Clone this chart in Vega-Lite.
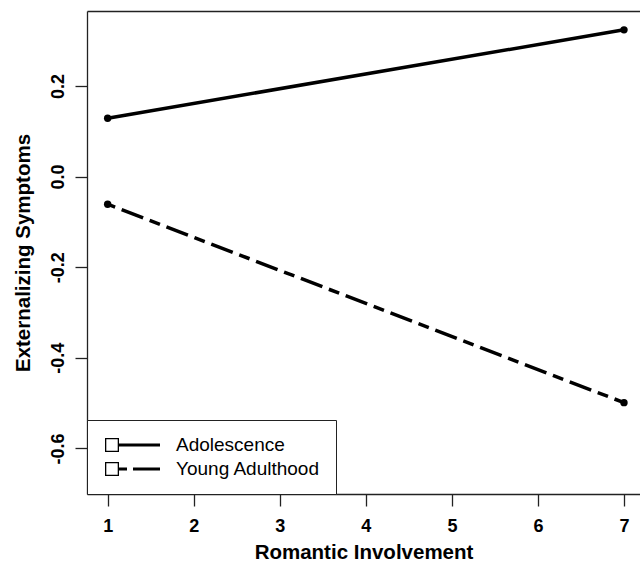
{
  "$schema": "https://vega.github.io/schema/vega-lite/v6.json",
  "width": 553,
  "height": 483,
  "autosize": {"type": "none"},
  "padding": {"left": 87, "top": 11, "right": 0, "bottom": 70},
  "background": "white",
  "config": {"view": {"stroke": null}, "font": "Liberation Sans"},
  "data": {"values": [
    {"x": 1, "value": 0.129, "series": "Adolescence"},
    {"x": 7, "value": 0.324, "series": "Adolescence"},
    {"x": 1, "value": -0.061, "series": "Young Adulthood"},
    {"x": 7, "value": -0.499, "series": "Young Adulthood"}
  ]},
  "encoding": {
    "x": {"field": "x", "type": "quantitative",
      "scale": {"domain": [0.76, 7.186], "nice": false, "zero": false},
      "axis": {"values": [1, 2, 3, 4, 5, 6, 7], "grid": false, "tickSize": 12, "tickColor": "#222", "tickWidth": 1.3,
        "domainColor": "#222", "domainWidth": 1.3, "labelFont": "Liberation Sans", "labelFontSize": 18,
        "labelFontWeight": "bold", "labelColor": "#000", "labelPadding": 11, "labelFlush": false, "labelOverlap": false,
        "title": "Romantic Involvement", "titleFont": "Liberation Sans", "titleFontSize": 20.5, "titleFontWeight": "bold",
        "titleColor": "#000", "titlePadding": 7}},
    "y": {"field": "value", "type": "quantitative",
      "scale": {"domain": [-0.7007, 0.3656], "nice": false, "zero": false},
      "axis": {"values": [-0.6, -0.4, -0.2, 0, 0.2], "grid": false, "tickSize": 12, "tickColor": "#222", "tickWidth": 1.3,
        "domainColor": "#222", "domainWidth": 1.3, "labelFont": "Liberation Sans", "labelFontSize": 18,
        "labelFontWeight": "bold", "labelColor": "#000", "labelPadding": 12, "labelAngle": -90,
        "labelAlign": "center", "labelBaseline": "alphabetic", "labelOverlap": false, "labelFlush": false,
        "labelExpr": "datum.value < 0 ? '-' + format(-datum.value, '.1f') : format(datum.value, '.1f')",
        "title": "Externalizing Symptoms", "titleFont": "Liberation Sans", "titleFontSize": 20.5, "titleFontWeight": "bold",
        "titleColor": "#000", "titleBaseline": "alphabetic", "titlePadding": 20}}
  },
  "resolve": {"axis": {"x": "independent"}},
  "layer": [
    {
      "transform": [{"filter": "datum.series === 'Adolescence'"}],
      "mark": {"type": "line", "color": "#000", "strokeWidth": 3.5, "strokeCap": "butt"},
      "encoding": {}
    },
    {
      "transform": [{"filter": "datum.series === 'Young Adulthood'"}],
      "mark": {"type": "line", "color": "#000", "strokeWidth": 3.5, "strokeCap": "butt", "strokeDash": [23, 7, 11, 7], "strokeDashOffset": 33},
      "encoding": {
        "x": {"field": "x", "type": "quantitative",
          "scale": {"domain": [0.76, 7.186], "nice": false, "zero": false}, "axis": null}
      }
    },
    {
      "mark": {"type": "point", "filled": true, "color": "#000", "size": 55, "opacity": 1},
      "encoding": {
        "x": {"field": "x", "type": "quantitative",
          "scale": {"domain": [0.76, 7.186], "nice": false, "zero": false},
          "axis": {"orient": "top", "labels": false, "ticks": false, "title": null, "domain": true,
            "domainColor": "#222", "domainWidth": 1.3, "grid": false}}
      }
    },
    {
      "mark": {"type": "point", "filled": true, "color": "#000", "size": 0, "opacity": 1},
      "encoding": {
        "x": {"field": "x", "type": "quantitative",
          "scale": {"domain": [0.76, 7.186], "nice": false, "zero": false}, "axis": null},
        "shape": {"field": "series", "type": "nominal",
          "scale": {"domain": ["Adolescence", "Young Adulthood"],
            "range": [
              "M-1,0M-0.7,-0.7L0.7,-0.7L0.7,0.7L-0.7,0.7ZM-0.57,-0.57L-0.57,0.57L0.57,0.57L0.57,-0.57ZM0.7,-0.16L4.8,-0.16L4.8,0.16L0.7,0.16Z",
              "M-1,0M-0.7,-0.7L0.7,-0.7L0.7,0.7L-0.7,0.7ZM-0.57,-0.57L-0.57,0.57L0.57,0.57L0.57,-0.57ZM0.7,-0.16L1.5,-0.16L1.5,0.16L0.7,0.16ZM2.1,-0.16L4.8,-0.16L4.8,0.16L2.1,0.16Z"
            ]},
          "legend": {"title": null, "orient": "bottom-left", "offset": 0, "strokeColor": "#222", "fillColor": "white",
            "padding": 15, "rowPadding": 4, "labelFont": "Liberation Sans", "labelFontSize": 19, "labelColor": "#000",
            "labelOffset": 54, "symbolSize": 400, "symbolStrokeWidth": 0, "symbolFillColor": "#000",
            "symbolOpacity": 1, "labelLimit": 300}}
      }
    }
  ]
}
